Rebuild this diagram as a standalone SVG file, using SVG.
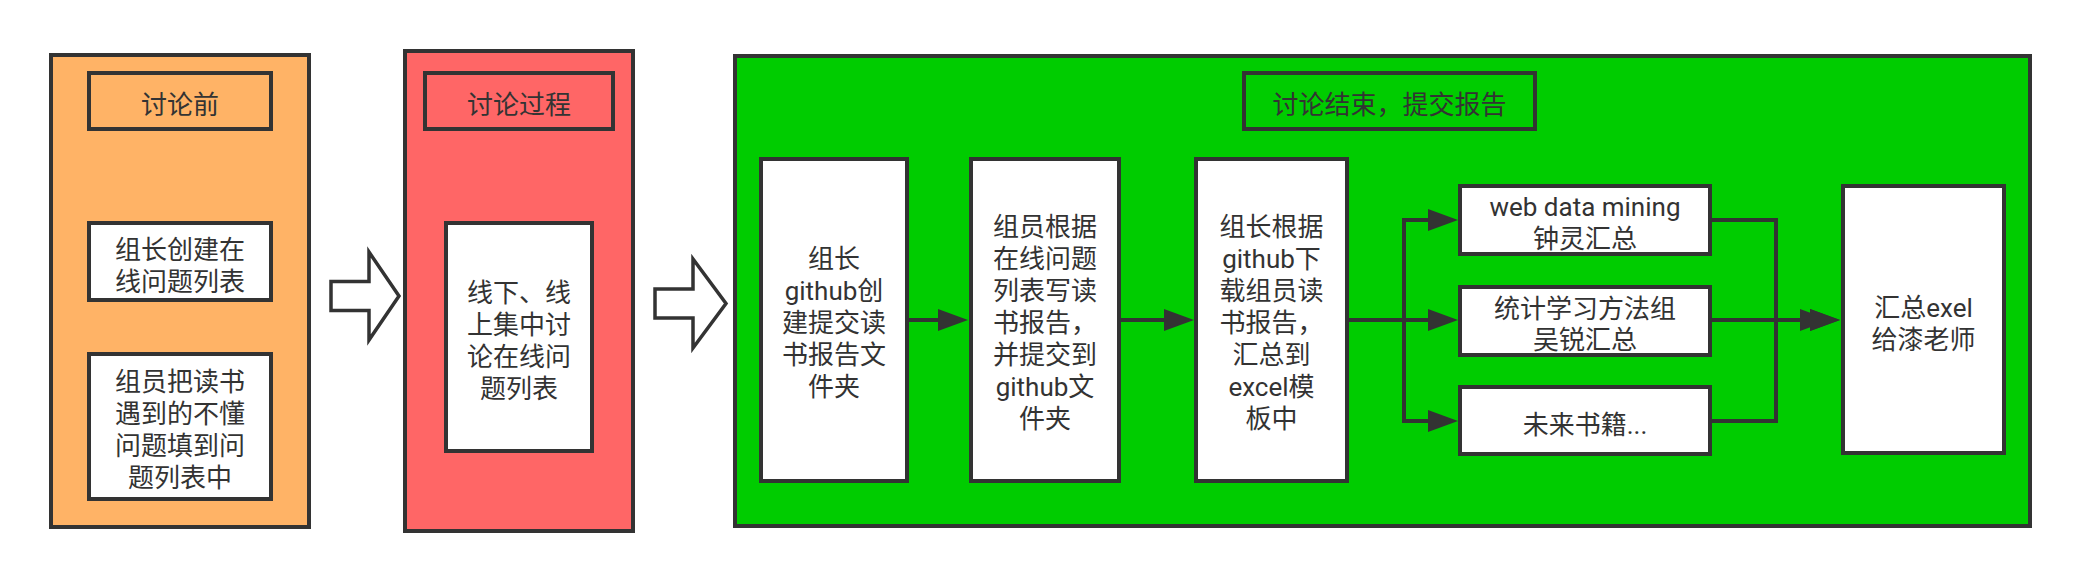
<svg xmlns="http://www.w3.org/2000/svg" width="2082" height="584" viewBox="0 0 2082 584">
<style>
.box{stroke:#333333;stroke-width:4;}
.w{fill:#ffffff;}
.t{font-family:Roboto,"Noto Sans CJK SC",sans-serif;font-size:26px;fill:#333333;text-anchor:middle;}
.c{fill:none;stroke:#333333;stroke-width:4;marker-end:url(#ah);}
.blk{fill:#ffffff;stroke:#333333;stroke-width:3.5;}
</style>
<defs>
<marker id="ah" markerUnits="userSpaceOnUse" markerWidth="30" markerHeight="22" refX="15" refY="11" orient="auto" overflow="visible">
<path d="M0,0 L30,11 L0,22 Z" fill="#333333"/>
</marker>
</defs>
<rect width="2082" height="584" fill="#ffffff"/>

<g id="phase-before">
<rect class="box" x="51" y="55" width="258" height="472" fill="#FFB366"/>
</g>
<g id="title-before">
<rect class="box" x="89" y="73" width="182" height="56" fill="#FFB366"/>
<text class="t" x="180" y="114">讨论前</text>
</g>
<g id="create-list">
<rect class="box w" x="89" y="223" width="182" height="77"/>
<text class="t"><tspan x="180" y="259">组长创建在</tspan><tspan x="180" y="291">线问题列表</tspan></text>
</g>
<g id="fill-questions">
<rect class="box w" x="89" y="354" width="182" height="145"/>
<text class="t"><tspan x="180" y="391">组员把读书</tspan><tspan x="180" y="423">遇到的不懂</tspan><tspan x="180" y="455">问题填到问</tspan><tspan x="180" y="487">题列表中</tspan></text>
</g>

<g id="arrow-1">
<polygon class="blk" points="331,281.5 369,281.5 369,252 399,296 369,340 369,310.5 331,310.5"/>
</g>

<g id="phase-during">
<rect class="box" x="405" y="51" width="228" height="480" fill="#FF6666"/>
</g>
<g id="title-during">
<rect class="box" x="425" y="73" width="188" height="56" fill="#FF6666"/>
<text class="t" x="519" y="114">讨论过程</text>
</g>
<g id="discuss">
<rect class="box w" x="446" y="223" width="146" height="228"/>
<text class="t"><tspan x="519" y="302">线下、线</tspan><tspan x="519" y="334">上集中讨</tspan><tspan x="519" y="366">论在线问</tspan><tspan x="519" y="398">题列表</tspan></text>
</g>

<g id="arrow-2">
<polygon class="blk" points="655,289 693,289 693,259 726,303.5 693,348 693,318 655,318"/>
</g>

<g id="phase-after">
<rect class="box" x="735" y="56" width="1295" height="470" fill="#00CC00"/>
</g>
<g id="title-after">
<rect class="box" x="1244" y="73" width="291" height="56" fill="#00CC00"/>
<text class="t" x="1389.5" y="114">讨论结束，提交报告</text>
</g>
<g id="create-folder">
<rect class="box w" x="761" y="159" width="146" height="322"/>
<text class="t"><tspan x="834" y="268">组长</tspan><tspan x="834" y="300">github创</tspan><tspan x="834" y="332">建提交读</tspan><tspan x="834" y="364">书报告文</tspan><tspan x="834" y="396">件夹</tspan></text>
</g>
<g id="write-report">
<rect class="box w" x="971" y="159" width="148" height="322"/>
<text class="t"><tspan x="1045" y="236">组员根据</tspan><tspan x="1045" y="268">在线问题</tspan><tspan x="1045" y="300">列表写读</tspan><tspan x="1045" y="332">书报告，</tspan><tspan x="1045" y="364">并提交到</tspan><tspan x="1045" y="396">github文</tspan><tspan x="1045" y="428">件夹</tspan></text>
</g>
<g id="collect-excel">
<rect class="box w" x="1196" y="159" width="151" height="322"/>
<text class="t"><tspan x="1271.5" y="236">组长根据</tspan><tspan x="1271.5" y="268">github下</tspan><tspan x="1271.5" y="300">载组员读</tspan><tspan x="1271.5" y="332">书报告，</tspan><tspan x="1271.5" y="364">汇总到</tspan><tspan x="1271.5" y="396">excel模</tspan><tspan x="1271.5" y="428">板中</tspan></text>
</g>
<g id="web-mining">
<rect class="box w" x="1460" y="186" width="250" height="68"/>
<text class="t"><tspan x="1585" y="216">web data mining</tspan><tspan x="1585" y="248">钟灵汇总</tspan></text>
</g>
<g id="stat-learning">
<rect class="box w" x="1460" y="287" width="250" height="68"/>
<text class="t"><tspan x="1585" y="317.5">统计学习方法组</tspan><tspan x="1585" y="349">吴锐汇总</tspan></text>
</g>
<g id="future-books">
<rect class="box w" x="1460" y="387" width="250" height="67"/>
<text class="t" x="1585" y="434">未来书籍...</text>
</g>
<g id="send-teacher">
<rect class="box w" x="1843" y="186" width="161" height="267"/>
<text class="t"><tspan x="1923.5" y="317">汇总exel</tspan><tspan x="1923.5" y="349">给漆老师</tspan></text>
</g>

<g id="connectors">
<path class="c" d="M909,320 L953,320"/>
<path class="c" d="M1121,320 L1179,320"/>
<path class="c" d="M1349,320 H1404 V220 H1443"/>
<path class="c" d="M1349,320 H1443"/>
<path class="c" d="M1349,320 H1404 V421 H1443"/>
<path class="c" d="M1712,220 H1776 V320 H1825"/>
<path class="c" d="M1712,320 H1815"/>
<path class="c" d="M1712,421 H1776 V320 H1825"/>
</g>
</svg>
